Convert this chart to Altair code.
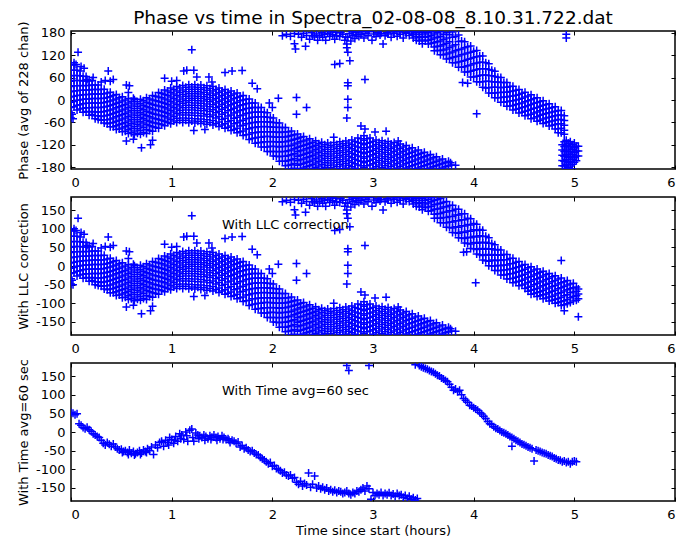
import altair as alt
import pandas as pd

FONT = "DejaVu Sans"
TITLE = "Phase vs time in Spectra_02-08-08_8.10.31.722.dat"
x_ticks = [0, 1, 2, 3, 4, 5, 6]
p1_y_ticks = [-180, -120, -60, 0, 60, 120, 180]
p23_y_ticks = [-150, -100, -50, 0, 50, 100, 150]
y_titles = ["Phase (avg of 228 chan)", "With LLC correction", "With Time avg=60 sec"]
notes = ["With LLC correction", "With Time avg=60 sec"]
x_title = "Time since start (hours)"

# ---- panels 1 & 2: lower wave (time in hours, [phases in degrees]) ----
lower_band = [
    (0.00, [95, 80, 65, 50, 36, 22, 8, -6, -20, -34, -48]),
    (0.03, [94, 80, 66, 52, 38, 24, 10, -4, -18]),
    (0.06, [80, 66, 52, 38, 25, 12, -1, -14, -27]),
    (0.09, [78, 65, 52, 39, 26, 13, 0, -13, -24]),
    (0.12, [64, 51, 38, 26, 14, 2, -10, -22, -33]),
    (0.15, [63, 51, 39, 27, 15, 3, -9, -21, -31]),
    (0.18, [51, 39, 27, 15, 3, -9, -21, -32, -41]),
    (0.21, [52, 40, 28, 16, 4, -8, -20, -31, -39]),
    (0.24, [40, 28, 16, 4, -8, -20, -32, -42, -50]),
    (0.27, [40, 28, 16, 4, -8, -20, -32, -42, -52]),
    (0.30, [28, 16, 4, -8, -20, -32, -44, -54]),
    (0.33, [29, 17, 5, -7, -19, -31, -43, -53, -62]),
    (0.36, [19, 7, -5, -17, -29, -41, -53, -64]),
    (0.39, [21, 9, -3, -15, -27, -39, -51, -62, -72]),
    (0.42, [12, 0, -12, -24, -36, -48, -60, -72]),
    (0.45, [15, 3, -9, -21, -33, -45, -57, -69, -79]),
    (0.48, [6, -6, -18, -30, -42, -54, -66, -78]),
    (0.51, [9, -3, -15, -27, -39, -51, -63, -75, -85]),
    (0.54, [0, -12, -24, -36, -48, -60, -72, -84]),
    (0.57, [4, -8, -20, -32, -44, -56, -68, -80, -90]),
    (0.60, [-4, -16, -28, -40, -52, -64, -76, -88]),
    (0.63, [1, -11, -23, -35, -47, -59, -71, -83, -93]),
    (0.66, [-5, -17, -29, -41, -53, -65, -77, -89]),
    (0.69, [2, -10, -22, -34, -46, -58, -70, -82, -92]),
    (0.72, [-2, -14, -26, -38, -50, -62, -74, -87]),
    (0.75, [6, -6, -18, -30, -42, -54, -66, -79, -90]),
    (0.78, [3, -9, -21, -33, -45, -57, -69, -82]),
    (0.81, [12, 0, -12, -24, -36, -48, -60, -72, -84]),
    (0.84, [10, -2, -14, -26, -38, -50, -62, -74]),
    (0.87, [20, 8, -4, -16, -28, -40, -52, -64, -76]),
    (0.90, [18, 6, -6, -18, -30, -42, -54, -66]),
    (0.93, [27, 15, 3, -9, -21, -33, -45, -57, -69]),
    (0.96, [24, 12, 0, -12, -24, -36, -48, -60]),
    (0.99, [32, 20, 8, -4, -16, -28, -40, -52, -64]),
    (1.02, [28, 16, 4, -8, -20, -32, -44, -56]),
    (1.05, [36, 24, 12, 0, -12, -24, -36, -49, -60]),
    (1.08, [32, 20, 8, -4, -16, -28, -40, -54]),
    (1.11, [39, 27, 15, 3, -9, -21, -34, -48, -60]),
    (1.14, [34, 22, 10, -2, -14, -27, -40, -54]),
    (1.17, [41, 29, 17, 5, -7, -20, -34, -49, -61]),
    (1.20, [35, 23, 11, -1, -14, -27, -41, -56]),
    (1.23, [41, 29, 17, 5, -8, -21, -35, -50, -62]),
    (1.26, [34, 22, 10, -2, -15, -28, -42, -57]),
    (1.29, [40, 28, 16, 4, -9, -22, -36, -51, -63]),
    (1.32, [33, 21, 9, -3, -16, -29, -43, -58]),
    (1.35, [38, 26, 14, 2, -11, -24, -38, -53, -65]),
    (1.38, [31, 19, 7, -5, -18, -31, -45, -60]),
    (1.41, [36, 24, 12, 0, -13, -26, -40, -55, -67]),
    (1.44, [28, 16, 4, -8, -21, -34, -48, -63]),
    (1.47, [32, 20, 8, -4, -17, -30, -44, -59, -71]),
    (1.50, [24, 12, 0, -12, -25, -38, -52, -67]),
    (1.53, [28, 16, 4, -8, -21, -34, -49, -64, -76]),
    (1.56, [20, 8, -4, -16, -29, -43, -58, -73]),
    (1.59, [24, 12, 0, -13, -26, -40, -55, -70, -82]),
    (1.62, [16, 4, -9, -22, -35, -49, -64, -79]),
    (1.65, [19, 7, -6, -19, -32, -46, -61, -76, -88]),
    (1.68, [10, -2, -15, -28, -42, -56, -70, -85]),
    (1.71, [12, 0, -13, -26, -40, -54, -68, -83, -95]),
    (1.74, [2, -10, -23, -36, -50, -64, -78, -93]),
    (1.77, [3, -9, -22, -35, -49, -63, -77, -92, -106]),
    (1.80, [-8, -20, -33, -46, -60, -74, -88, -103]),
    (1.83, [-8, -20, -33, -46, -60, -74, -88, -102, -116]),
    (1.86, [-20, -32, -45, -58, -72, -86, -100, -114]),
    (1.89, [-20, -32, -45, -58, -72, -86, -100, -114, -126]),
    (1.92, [-33, -45, -58, -71, -85, -98, -112, -126]),
    (1.95, [-34, -46, -59, -72, -85, -98, -112, -126, -138]),
    (1.98, [-47, -59, -72, -85, -98, -111, -124, -138]),
    (2.01, [-48, -60, -73, -86, -99, -112, -125, -138, -150]),
    (2.04, [-61, -73, -86, -99, -112, -125, -138, -151]),
    (2.07, [-62, -74, -87, -100, -113, -126, -139, -152, -164]),
    (2.10, [-74, -86, -99, -112, -125, -138, -151, -164]),
    (2.13, [-74, -86, -99, -112, -125, -138, -151, -164, -176]),
    (2.16, [-85, -97, -110, -123, -136, -149, -162, -175]),
    (2.19, [-83, -95, -108, -121, -134, -147, -160, -173, -185]),
    (2.22, [-93, -105, -118, -131, -144, -157, -170, -183]),
    (2.25, [-91, -103, -115, -127, -139, -151, -163, -175]),
    (2.28, [-100, -112, -124, -136, -148, -160, -172, -184]),
    (2.31, [-98, -110, -122, -134, -146, -158, -170, -182]),
    (2.34, [-107, -119, -131, -143, -155, -167, -179]),
    (2.37, [-104, -116, -128, -140, -152, -164, -176]),
    (2.40, [-113, -125, -137, -149, -161, -173, -185]),
    (2.43, [-109, -121, -133, -145, -157, -169, -181]),
    (2.46, [-117, -129, -141, -153, -165, -177]),
    (2.49, [-113, -125, -137, -149, -161, -173, -185]),
    (2.52, [-120, -132, -144, -156, -168, -180]),
    (2.55, [-115, -127, -139, -151, -163, -175]),
    (2.58, [-121, -133, -145, -157, -169, -181]),
    (2.61, [-114, -126, -138, -150, -162, -174]),
    (2.64, [-119, -131, -143, -155, -167, -179]),
    (2.67, [-112, -124, -136, -148, -160, -172, -184]),
    (2.70, [-117, -129, -141, -153, -165, -177]),
    (2.73, [-110, -122, -134, -146, -158, -170, -182]),
    (2.76, [-115, -127, -139, -151, -163, -175]),
    (2.79, [-107, -119, -131, -143, -155, -167, -179]),
    (2.82, [-111, -123, -135, -147, -159, -171, -183]),
    (2.85, [-102, -114, -126, -138, -150, -162, -174]),
    (2.88, [-104, -116, -128, -140, -152, -164, -176]),
    (2.91, [-96, -108, -120, -132, -144, -156, -168, -180]),
    (2.94, [-104, -116, -128, -140, -152, -164, -176]),
    (2.97, [-102, -114, -126, -138, -150, -162, -174]),
    (3.00, [-111, -123, -135, -147, -159, -171, -183]),
    (3.03, [-107, -119, -131, -143, -155, -167, -179]),
    (3.06, [-114, -126, -138, -150, -162, -174]),
    (3.09, [-109, -121, -133, -145, -157, -169, -181]),
    (3.12, [-116, -128, -140, -152, -164, -176]),
    (3.15, [-111, -123, -135, -147, -159, -171, -183]),
    (3.18, [-118, -130, -142, -154, -166, -178]),
    (3.21, [-114, -126, -138, -150, -162, -174]),
    (3.24, [-122, -134, -146, -158, -170, -182]),
    (3.27, [-118, -130, -142, -154, -166, -178]),
    (3.30, [-126, -138, -150, -162, -174]),
    (3.33, [-122, -134, -146, -158, -170, -182]),
    (3.36, [-131, -143, -155, -167, -179]),
    (3.39, [-128, -140, -152, -164, -176]),
    (3.42, [-137, -149, -161, -173, -185]),
    (3.45, [-134, -146, -158, -170, -182]),
    (3.48, [-143, -155, -167, -179]),
    (3.51, [-140, -152, -164, -176]),
    (3.54, [-149, -161, -173, -185]),
    (3.57, [-146, -158, -170, -182]),
    (3.60, [-155, -167, -179]),
    (3.63, [-152, -164, -176]),
    (3.66, [-161, -173, -185]),
    (3.69, [-158, -170, -182]),
    (3.72, [-167, -179]),
    (3.75, [-164, -176]),
    (3.78, [-174]),
]

# wrapped points near +180 (panels 1 & 2)
wrap_pts = [
    (2.10, 172), (2.14, 176), (2.18, 171), (2.22, 178), (2.22, 151), (2.23, 137),
    (2.26, 176), (2.29, 168), (2.31, 179), (2.33, 144), (2.34, 173), (2.37, 163),
    (2.39, 180), (2.40, 172), (2.42, 169), (2.44, 177), (2.45, 160), (2.47, 172),
    (2.49, 180), (2.50, 168), (2.52, 176), (2.53, 160), (2.55, 179), (2.57, 170),
    (2.58, 182), (2.60, 175), (2.62, 163), (2.63, 181), (2.64, 172), (2.67, 170),
    (2.68, 180), (2.70, 176), (2.72, 160), (2.73, 169), (2.74, 150), (2.75, 168),
    (2.77, 178), (2.78, 158), (2.79, 183), (2.80, 172), (2.82, 165), (2.83, 180),
    (2.84, 175), (2.86, 170), (2.88, 176), (2.89, 183), (2.91, 166), (2.93, 179),
    (2.95, 172), (2.96, 183), (2.99, 160), (3.01, 177), (3.03, 170), (3.05, 181),
    (3.07, 174), (3.08, 179), (3.10, 150), (3.12, 172), (3.14, 180), (3.15, 177),
    (3.18, 168), (3.20, 182), (3.21, 178), (3.24, 171), (3.26, 183), (3.27, 176),
    (3.30, 166), (3.32, 181), (3.33, 179), (3.36, 173), (3.38, 183), (3.39, 177),
]

# isolated points (panels 1 & 2)
stray_pts = [
    (0.01, -38), (0.02, -50), (0.03, 100), (0.05, 95), (0.07, 128), (0.10, 90),
    (0.13, 85), (0.16, 55), (0.22, 60), (0.30, 48), (0.34, 52), (0.37, 78),
    (0.39, 50), (0.42, 55), (0.55, 40), (0.57, 20), (0.58, 38), (0.62, 5),
    (0.55, -110), (0.62, -105), (0.70, -128), (0.79, -120), (0.81, -108),
    (0.93, 58), (1.00, 50), (1.05, 52), (1.12, 78), (1.15, 80), (1.20, 135),
    (1.22, 80), (1.25, 62), (1.33, -79), (1.37, 62), (1.40, 48), (1.22, -82),
    (1.53, 74), (1.60, 78), (1.70, 79), (1.80, 45), (1.85, 30), (1.97, -8),
    (2.00, -20), (2.06, 5), (2.24, 7), (2.24, -38), (2.34, -20), (2.61, -100),
    (2.88, -70), (2.92, -78), (3.02, -86), (3.13, -84), (3.25, -110),
    (2.75, 46), (2.75, 38), (2.75, 2), (2.75, -20), (2.74, -48), (2.92, 55),
    (2.62, 95), (2.67, 98), (2.77, 105), (2.75, 128), (2.74, 140),
    (3.77, -168), (3.82, -175),
]

# panel 1: upper descending band
p1_upper_band = [
    (3.40, [184, 175, 166]), (3.43, [180, 170, 160]), (3.46, [185, 176, 167, 158]),
    (3.49, [181, 171, 161, 151]), (3.52, [186, 177, 168, 158]), (3.55, [180, 170, 160, 150]),
    (3.58, [183, 173, 163, 152]), (3.61, [177, 166, 154, 142, 132]),
    (3.64, [180, 168, 156, 144, 133]), (3.67, [184, 171, 158, 145, 133, 121]),
    (3.70, [176, 162, 148, 134, 121]), (3.73, [180, 166, 152, 137, 123, 110]),
    (3.76, [175, 156, 141, 126, 111]), (3.79, [182, 168, 145, 129, 114, 100]),
    (3.82, [170, 148, 132, 116, 100]), (3.85, [174, 157, 135, 118, 102, 88]),
    (3.88, [158, 137, 121, 104, 88]), (3.91, [156, 140, 123, 106, 89, 75]),
    (3.94, [143, 126, 109, 92, 75]), (3.97, [145, 128, 111, 94, 77, 62]),
    (4.00, [131, 114, 97, 80, 62]), (4.03, [133, 116, 99, 82, 64, 49]),
    (4.06, [118, 101, 84, 66, 48]), (4.09, [118, 101, 84, 67, 49, 34]),
    (4.12, [100, 84, 67, 50, 32]), (4.15, [97, 82, 66, 50, 33, 19]),
    (4.18, [80, 65, 49, 34, 18]), (4.21, [77, 63, 48, 34, 19, 6]),
    (4.24, [61, 48, 34, 20, 6]), (4.27, [60, 47, 33, 20, 7, -6]),
    (4.30, [47, 34, 21, 8, -6]), (4.33, [47, 34, 21, 8, -5, -17]),
    (4.36, [36, 23, 10, -3, -16]), (4.39, [37, 24, 11, -2, -15, -27]),
    (4.42, [26, 13, 0, -12, -25]), (4.45, [28, 15, 2, -10, -23, -35]),
    (4.48, [18, 5, -8, -20, -33]), (4.51, [21, 8, -5, -18, -30, -42]),
    (4.54, [11, -2, -15, -28, -40]), (4.57, [14, 1, -12, -25, -38, -50]),
    (4.60, [4, -9, -22, -35, -48]), (4.63, [6, -7, -20, -32, -45, -57]),
    (4.66, [-4, -17, -29, -41, -54]), (4.69, [-2, -14, -26, -38, -51, -63]),
    (4.72, [-12, -24, -36, -48, -60]), (4.75, [-10, -22, -34, -46, -58, -70]),
    (4.78, [-20, -32, -44, -56, -68]), (4.81, [-18, -30, -42, -54, -66, -78]),
    (4.84, [-28, -40, -52, -64, -77, -88]), (4.87, [-28, -40, -52, -64, -76, -88]),
    (4.90, [-42, -55, -68, -81, -92]),
]
# panel 1: phase-jump blob at the end
p1_jump_band = [
    (4.88, [-120, -134, -148, -162, -176]),
    (4.90, [-112, -125, -138, -151, -164, -177]),
    (4.92, [-108, -121, -134, -147, -160, -173, -185]),
    (4.94, [-116, -129, -142, -155, -168, -181]),
    (4.96, [-112, -125, -138, -151, -164, -177]),
    (4.98, [-120, -133, -146, -159, -172, -185]),
    (5.00, [-115, -128, -141, -154, -167]),
    (5.02, [-124, -137, -150, -163]),
    (5.04, [-124, -137, -150]),
]
p1_extra = [(4.92, 176), (4.92, 166), (3.89, 47), (3.94, 45), (4.03, -37)]

# panel 2: upper descending band after LLC correction
p2_upper_band = [
    (3.40, [184, 175, 166]), (3.43, [180, 170, 160]), (3.46, [185, 176, 167, 158]),
    (3.49, [181, 171, 161, 151]), (3.52, [185, 176, 166, 156]), (3.55, [179, 169, 158, 147]),
    (3.58, [183, 172, 160, 148]), (3.61, [176, 164, 152, 139, 128]),
    (3.64, [178, 166, 153, 140, 128]), (3.67, [181, 168, 155, 141, 128, 116]),
    (3.70, [171, 158, 144, 130, 116]), (3.73, [173, 159, 145, 130, 116, 104]),
    (3.76, [162, 148, 133, 118, 103]), (3.79, [163, 148, 133, 118, 102, 90]),
    (3.82, [152, 137, 121, 105, 89]), (3.85, [152, 137, 121, 104, 88, 76]),
    (3.88, [140, 124, 108, 91, 75]), (3.91, [140, 124, 107, 90, 74, 62]),
    (3.94, [128, 111, 94, 77, 60]), (3.97, [127, 110, 93, 76, 59, 47]),
    (4.00, [114, 97, 80, 63, 46]), (4.03, [112, 95, 78, 61, 44, 32]),
    (4.06, [98, 81, 64, 47, 30]), (4.09, [96, 79, 62, 45, 28, 16]),
    (4.12, [80, 64, 47, 31, 14]), (4.15, [76, 61, 45, 29, 13, 1]),
    (4.18, [60, 46, 31, 16, 0]), (4.21, [57, 43, 29, 14, 0, -12]),
    (4.24, [44, 30, 16, 2, -12]), (4.27, [43, 29, 15, 1, -12, -24]),
    (4.30, [31, 17, 3, -11, -24]), (4.33, [31, 17, 3, -10, -23, -35]),
    (4.36, [20, 6, -8, -21, -34]), (4.39, [21, 7, -7, -20, -33, -45]),
    (4.42, [10, -4, -17, -30, -43]), (4.45, [12, -2, -15, -28, -41, -53]),
    (4.48, [2, -12, -25, -38, -51]), (4.51, [4, -9, -22, -35, -48, -60]),
    (4.54, [-5, -18, -31, -44, -57, -68]), (4.57, [-2, -15, -28, -41, -54, -65, -76]),
    (4.60, [-11, -24, -37, -50, -63, -74]), (4.63, [-8, -21, -34, -47, -60, -71, -82]),
    (4.66, [-17, -30, -43, -56, -69, -80]), (4.69, [-14, -27, -40, -53, -66, -77, -88]),
    (4.72, [-23, -36, -49, -62, -75, -86]), (4.75, [-20, -33, -46, -59, -72, -83, -94]),
    (4.78, [-29, -42, -55, -68, -81, -92]), (4.81, [-26, -39, -52, -65, -78, -89, -100]),
    (4.84, [-35, -48, -61, -74, -87, -98]), (4.87, [-32, -45, -58, -71, -84, -95, -106]),
    (4.90, [-42, -54, -67, -80, -93, -104]), (4.93, [-39, -51, -64, -77, -90, -101]),
    (4.96, [-48, -60, -72, -85, -98]), (4.99, [-46, -58, -70, -82, -94]),
    (5.02, [-56, -68, -80, -92]), (5.04, [-62, -75, -88]),
]
p2_extra = [(4.87, 15), (4.02, -45), (3.90, 37), (3.93, 38), (4.90, -120), (5.04, -136)]

# panel 3: 60 s averages
p3_pts = [
    (0.00, 52), (0.02, 50), (0.04, 46), (0.06, 49), (0.08, 22), (0.10, 18), (0.12, 12),
    (0.14, 9), (0.16, 13), (0.18, 6), (0.20, 2), (0.22, -5), (0.24, -8), (0.26, -12),
    (0.28, -15), (0.30, -22), (0.32, -30), (0.34, -35), (0.36, -28), (0.38, -33),
    (0.40, -38), (0.42, -32), (0.44, -40), (0.46, -45), (0.48, -48), (0.50, -46),
    (0.52, -52), (0.54, -50), (0.56, -55), (0.58, -48), (0.60, -57), (0.62, -52),
    (0.64, -58), (0.66, -55), (0.68, -50), (0.70, -56), (0.72, -48), (0.74, -52),
    (0.76, -45), (0.78, -50), (0.80, -40), (0.82, -60), (0.84, -35), (0.86, -42),
    (0.88, -28), (0.90, -25), (0.92, -38), (0.94, -22), (0.96, -28), (0.98, -15),
    (1.00, -20), (1.02, -30), (1.04, -12), (1.06, -25), (1.08, -5), (1.10, -8),
    (1.12, -20), (1.14, 0), (1.16, -25), (1.18, 5), (1.20, 8), (1.22, -25),
    (1.24, -3), (1.26, -8), (1.28, -10), (1.30, -15), (1.32, -8), (1.34, -12),
    (1.36, -18), (1.38, -10), (1.40, -14), (1.42, -8), (1.44, -15), (1.46, -12),
    (1.48, -18), (1.50, -10), (1.52, -15), (1.54, -20), (1.56, -18), (1.58, -28),
    (1.60, -22), (1.62, -25), (1.64, -30), (1.66, -27), (1.68, -40), (1.70, -36),
    (1.72, -45), (1.74, -42), (1.76, -48), (1.78, -52), (1.80, -50), (1.82, -56),
    (1.84, -60), (1.86, -62), (1.88, -68), (1.90, -72), (1.92, -75), (1.94, -80),
    (1.96, -85), (1.98, -82), (2.00, -92), (2.02, -90), (2.04, -98), (2.06, -100),
    (2.08, -104), (2.10, -110), (2.12, -108), (2.14, -115), (2.16, -118), (2.18, -115),
    (2.20, -124), (2.22, -122), (2.24, -135), (2.26, -140), (2.28, -132), (2.30, -145),
    (2.32, -138), (2.34, -142), (2.36, -110), (2.38, -148), (2.40, -140), (2.42, -118),
    (2.44, -150), (2.46, -145), (2.48, -152), (2.50, -148), (2.52, -155), (2.54, -150),
    (2.56, -158), (2.58, -155), (2.60, -160), (2.62, -156), (2.64, -162), (2.66, -158),
    (2.68, -160), (2.70, -165), (2.72, -162), (2.74, -158), (2.76, -165), (2.78, -168),
    (2.80, -162), (2.82, -165), (2.84, -158), (2.86, -160), (2.88, -155), (2.90, -150),
    (2.92, -158), (2.94, -145), (2.96, -152), (2.98, -180), (3.00, -162), (3.02, -170),
    (3.04, -165), (3.06, -168), (3.08, -162), (3.10, -170), (3.12, -165), (3.14, -168),
    (3.16, -163), (3.18, -170), (3.20, -166), (3.22, -172), (3.24, -165), (3.26, -170),
    (3.28, -168), (3.30, -175), (3.32, -170), (3.34, -178), (3.36, -172), (3.38, -180),
    (3.40, -176), (3.42, -182), (3.44, -178),
    (2.74, 178), (2.76, 165), (2.96, 178), (3.42, 180), (3.46, 178), (3.48, 175),
    (3.50, 172), (3.52, 170), (3.54, 168), (3.56, 165), (3.58, 162), (3.60, 160),
    (3.62, 156), (3.64, 152), (3.66, 150), (3.68, 145), (3.70, 142), (3.72, 138),
    (3.74, 135), (3.76, 128), (3.78, 120), (3.80, 112), (3.82, 115), (3.84, 108),
    (3.86, 112), (3.88, 100), (3.90, 90), (3.92, 85), (3.94, 80), (3.96, 72),
    (3.98, 70), (4.00, 65), (4.02, 62), (4.04, 58), (4.06, 52), (4.08, 48),
    (4.10, 42), (4.12, 36), (4.14, 28), (4.16, 22), (4.18, 20), (4.20, 14),
    (4.22, 10), (4.24, 8), (4.26, 4), (4.28, 0), (4.30, -2), (4.32, -5),
    (4.34, -8), (4.36, -12), (4.38, -15), (4.40, -18), (4.42, -22), (4.44, -25),
    (4.46, -28), (4.48, -32), (4.50, -34), (4.52, -37), (4.54, -40), (4.56, -42),
    (4.58, -45), (4.60, -78), (4.62, -48), (4.64, -50), (4.66, -52), (4.68, -55),
    (4.70, -57), (4.72, -58), (4.74, -62), (4.76, -64), (4.78, -66), (4.80, -70),
    (4.82, -72), (4.84, -75), (4.86, -76), (4.88, -80), (4.90, -78), (4.92, -82),
    (4.94, -80), (4.96, -85), (4.98, -80), (5.00, -78), (5.02, -80), (4.38, -38),
    (0.51, -55), (0.57, -60), (0.63, -62), (0.69, -60), (0.75, -55), (0.97, -35),
    (1.03, -22), (1.09, -18), (1.15, -10), (1.21, -15), (1.27, -18), (1.33, -22),
    (1.39, -20), (1.45, -22), (1.51, -20), (1.57, -22),
]


def band_rows(cols):
    return [(t, v) for t, vs in cols for v in vs]


df1 = pd.DataFrame(band_rows(lower_band) + wrap_pts + stray_pts + band_rows(p1_upper_band)
                   + band_rows(p1_jump_band) + p1_extra, columns=["t", "v"])
df2 = pd.DataFrame(band_rows(lower_band) + wrap_pts + stray_pts + band_rows(p2_upper_band)
                   + p2_extra, columns=["t", "v"])
df3 = pd.DataFrame(p3_pts, columns=["t", "v"])

PLUS = "M-1,0L1,0M0,-1L0,1"
XS = alt.Scale(domain=[0, 6], nice=False, zero=False)
YS = alt.Scale(domain=[-185, 185], nice=False, zero=False)
LAB = "'' + datum.value"


def panel(df, yticks, ytitle, note=None, xtitle=None):
    common = dict(offset=-4, tickSize=4, tickColor="black", tickWidth=1,
                  domain=False, grid=False, minExtent=0)
    xa = alt.Axis(orient="bottom", values=x_ticks, labelFont=FONT, labelFontSize=13,
                  labelColor="black", labelPadding=7, labelExpr=LAB, title=xtitle,
                  titleFont=FONT, titleFontSize=13, titleFontWeight="normal",
                  titleColor="black", titlePadding=3, **common)
    ya = alt.Axis(orient="left", values=yticks, labelFont=FONT, labelFontSize=13,
                  labelColor="black", labelPadding=6, labelExpr=LAB, title=ytitle,
                  titleFont=FONT, titleFontSize=13, titleFontWeight="normal",
                  titleColor="black", titlePadding=5, **common)
    xt = alt.Axis(orient="top", values=x_ticks, labels=False, title=None,
                  maxExtent=0, **common)
    yr = alt.Axis(orient="right", values=yticks, labels=False, title=None,
                  maxExtent=0, **common)

    pts = alt.Chart(df).mark_point(shape=PLUS, size=64, filled=False, color="#0000ff",
                                   strokeWidth=1.5, opacity=1, clip=True).encode(
        x=alt.X("t:Q", scale=XS, axis=xa), y=alt.Y("v:Q", scale=YS, axis=ya))
    ticks = alt.Chart(df.head(1)).mark_point(opacity=0).encode(
        x=alt.X("t:Q", scale=XS, axis=xt), y=alt.Y("v:Q", scale=YS, axis=yr))
    layers = [pts, ticks]
    if note:
        ndf = pd.DataFrame({"t": [1.5], "v": [100], "label": [note]})
        layers.append(alt.Chart(ndf).mark_text(align="left", baseline="alphabetic",
                                                font=FONT, fontSize=13, color="black").encode(
            x=alt.X("t:Q", scale=XS, axis=None), y=alt.Y("v:Q", scale=YS, axis=None),
            text="label:N"))
    return alt.layer(*layers).resolve_axis(x="independent", y="independent")


p1 = panel(df1, p1_y_ticks, y_titles[0]).properties(
    width=604, height=138,
    title=alt.TitleParams(TITLE, font=FONT, fontSize=18.5, fontWeight="normal",
                          color="black", anchor="middle", offset=-7))
p2 = panel(df2, p23_y_ticks, y_titles[1], note=notes[0]).properties(width=604, height=138)
p3 = panel(df3, p23_y_ticks, y_titles[2], note=notes[1], xtitle=x_title).properties(
    width=604, height=138)

chart = alt.vconcat(p1, p2, p3, spacing=28, bounds="flush").properties(
    padding={"left": 16, "top": 8, "right": 0, "bottom": 0}, background="white"
).configure_view(stroke="black", strokeWidth=1.5)

chart.save("out.html", embed_options={"renderer": "svg", "actions": False})
